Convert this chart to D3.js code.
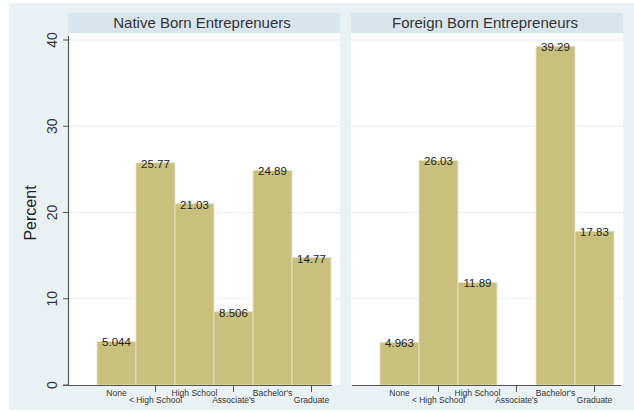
<!DOCTYPE html>
<html lang="en">
<head>
  <meta charset="UTF-8">
  <title>Entrepreneurs by education</title>
  <style>
    body { margin: 0; background: #fff; }
    svg text { font-family: "Liberation Sans", Arial, sans-serif; }
  </style>
</head>
<body>
  <script src="https://d3js.org/d3.v7.min.js"></script>
  <script>
    const categories = ['None', '< High School', 'High School', "Associate's", "Bachelor's", 'Graduate'];
    const panelTitles = ['Native Born Entreprenuers', 'Foreign Born Entrepreneurs'];
    const nativeValues = [5.044, 25.77, 21.03, 8.506, 24.89, 14.77];
    const foreignValues = [4.963, 26.03, 11.89, null, 39.29, 17.83];
    const yTicks = [0, 10, 20, 30, 40];

    const W = 634, H = 413;
    const BAR_COLOR = '#c9c07e';
    const PANEL_W = 272;
    const panelX = [68, 351];
    const plotTop = 33, plotBottom = 385;

    const svg = d3.select('body').append('svg')
      .attr('width', W).attr('height', H);

    // graph region background
    svg.append('rect').attr('x', 9).attr('y', 3).attr('width', W - 9).attr('height', 407)
      .attr('fill', '#eaf1f4');

    const yScale = d3.scaleLinear().domain([0, 40]).range([plotBottom, 40]);
    const xScale = d3.scaleBand().domain(categories).range([29, 263]).paddingInner(0);

    const panels = [nativeValues, foreignValues];

    panels.forEach((values, p) => {
      const g = svg.append('g').attr('transform', `translate(${panelX[p]},0)`);

      // header strip
      g.append('rect').attr('x', 0).attr('y', 13).attr('width', PANEL_W).attr('height', 20)
        .attr('fill', '#d9e5ec');
      g.append('text').attr('x', PANEL_W / 2 - 2).attr('y', 28)
        .attr('text-anchor', 'middle').attr('font-size', 15).attr('fill', '#333')
        .text(panelTitles[p]);

      // plot region
      g.append('rect').attr('x', 0).attr('y', plotTop).attr('width', PANEL_W)
        .attr('height', plotBottom - plotTop).attr('fill', '#fff');

      // gridlines
      g.selectAll('line.grid').data(yTicks.slice(1)).enter().append('line')
        .attr('class', 'grid')
        .attr('x1', 0).attr('x2', PANEL_W)
        .attr('y1', d => yScale(d)).attr('y2', d => yScale(d))
        .attr('stroke', '#e6ebed').attr('stroke-width', 1);

      const data = categories.map((c, i) => ({ key: c, value: values[i] }))
        .filter(d => d.value !== null);

      g.selectAll('rect.bar').data(data).enter().append('rect')
        .attr('class', 'bar')
        .attr('x', d => xScale(d.key))
        .attr('width', xScale.bandwidth())
        .attr('y', d => yScale(d.value))
        .attr('height', d => plotBottom - yScale(d.value))
        .attr('fill', BAR_COLOR)
        .attr('stroke', '#ebe6c8').attr('stroke-width', 0.8);

      g.selectAll('text.lbl').data(data).enter().append('text')
        .attr('class', 'lbl')
        .attr('x', d => xScale(d.key) + xScale.bandwidth() / 2)
        .attr('y', d => yScale(d.value) + 5)
        .attr('text-anchor', 'middle').attr('font-size', 11.5).attr('fill', '#222')
        .text(d => d.value);

      // x axis
      const xa = p === 0 ? [-5, 264] : [1, 270];
      g.append('line').attr('x1', xa[0]).attr('x2', xa[1])
        .attr('y1', plotBottom + 0.5).attr('y2', plotBottom + 0.5)
        .attr('stroke', '#555').attr('stroke-width', 1.2);

      categories.forEach((c, i) => {
        const cx = xScale(c) + xScale.bandwidth() / 2;
        const low = i % 2 === 1;
        if (low) {
          g.append('line').attr('x1', cx).attr('x2', cx)
            .attr('y1', plotBottom).attr('y2', plotBottom + 7)
            .attr('stroke', '#555').attr('stroke-width', 1);
        }
        g.append('text').attr('x', cx).attr('y', low ? 403 : 396)
          .attr('text-anchor', 'middle').attr('font-size', 8.5).attr('fill', '#333')
          .text(c);
      });

      // y axis (first panel only)
      if (p === 0) {
        g.append('line').attr('x1', 0.5).attr('x2', 0.5)
          .attr('y1', 36).attr('y2', plotBottom)
          .attr('stroke', '#555').attr('stroke-width', 1.2);
        yTicks.forEach(t => {
          const y = yScale(t);
          g.append('line').attr('x1', -5).attr('x2', 0).attr('y1', y).attr('y2', y)
            .attr('stroke', '#555').attr('stroke-width', 1);
          g.append('text')
            .attr('transform', `translate(-11,${y}) rotate(-90)`)
            .attr('text-anchor', 'middle').attr('font-size', 14).attr('fill', '#333')
            .text(t);
        });
      }
    });

    // y axis title
    svg.append('text')
      .attr('transform', `translate(36,213) rotate(-90)`)
      .attr('text-anchor', 'middle').attr('font-size', 16).attr('fill', '#222')
      .text('Percent');
  </script>
</body>
</html>
